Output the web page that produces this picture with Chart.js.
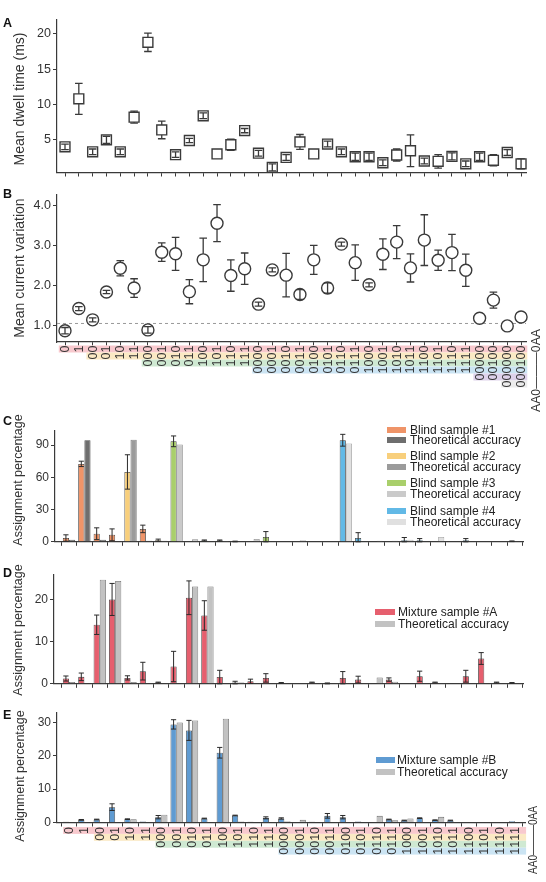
<!DOCTYPE html>
<html><head><meta charset="utf-8">
<script src="https://cdn.jsdelivr.net/npm/chart.js@4.4.1/dist/chart.umd.min.js"></script>
<style>
html,body{margin:0;padding:0;background:#fff;}
body{width:546px;height:882px;position:relative;overflow:hidden;font-family:"Liberation Sans",Arial,sans-serif;}
.txt{position:absolute;white-space:nowrap;line-height:1;}
.sw{position:absolute;}
</style></head><body>
<script>
// ---------------- DATA ----------------
const abCategories = ['0','1','00','01','10','11','000','001','010','011','100','101','110','111',
  '0000','0001','0010','0011','0100','0101','0110','0111','1000','1001','1010','1011','1100','1101','1110','1111',
  '00000','00100','000000','000100'];
const cdeCategories = ['0','1','00','01','10','11','000','001','010','011','100','101','110','111',
  '0000','0001','0010','0011','0100','0101','0110','0111','1000','1001','1010','1011','1100','1101','1110','1111'];
const frameLabel = 'AA0———0AA';

const dwellTime = [4.0,10.8,3.3,5.0,3.3,8.2,18.8,6.4,2.9,4.9,8.4,3.0,4.3,6.3,3.1,1.1,2.5,4.7,3.0,4.4,3.3,2.6,2.6,1.75,2.85,3.45,2.0,1.95,2.65,1.6,2.6,2.1,3.2,1.6];
const dwellErr  = [0.4,2.2,0.4,0.5,0.4,0.85,1.3,1.25,0.4,0.3,0.4,0,0.8,0.3,0.4,0.5,0.4,1.05,0,0.4,0.4,0.5,0.5,0.4,0.85,2.25,0.4,0.95,0.5,0.4,0.5,0.8,0.4,0.7];
const dwellTicks = [5,10,15,20];

const currentVar = [0.88,1.43,1.15,1.84,2.43,1.94,0.90,2.83,2.79,1.85,2.64,3.55,2.25,2.42,1.54,2.39,2.26,1.78,2.64,1.94,3.03,2.57,2.02,2.78,3.08,2.44,3.13,2.63,2.82,2.38,1.19,1.64,1.00,1.22];
const currentErr = [0.08,0.05,0.05,0.04,0.19,0.23,0.08,0.23,0.41,0.30,0.54,0.46,0.39,0.39,0.05,0.05,0.54,0.12,0.36,0.13,0.05,0.44,0.05,0.38,0.41,0.35,0.63,0.25,0.45,0.40,0,0.20,0,0];
const currentTicks = [1,2,3,4];
const currentBaseline = 1.06;

const blindSample = [3.5,72.5,7.5,6.5,65,12,1.5,93.5,0,1.2,1.2,0.3,0,4.5,0,0,0,0,94.5,3.5,0,0,1.5,1.5,0,0,1.5,0,0,0.5];
const blindErr    = [3,2.5,5.5,5.5,16,3.5,1,5,0,0.5,0.5,0.3,0,5,0,0,0,0,5.5,5,0,0,2.5,1.5,0,0,1.5,0,0,0.3];
const blindTheory = [2,94.5,2,0.5,95,1,1,90.5,2.3,0.5,0.3,0.5,2.6,0,0,1.5,0,0,91.5,0,1,1,2,0,4.5,0,0,0,0,0.5];
const blindGroup  = [1,1,1,1,2,1,2,3,3,3,3,3,3,3,4,4,4,4,4,4,4,4,4,4,4,4,4,4,4,4];
const blindNames  = ['Blind sample #1','Blind sample #2','Blind sample #3','Blind sample #4'];
const blindTicks  = [0,30,60,90];

const mixA       = [1.25,1.65,14.0,20.0,1.4,3.0,0.3,4.1,20.4,16.2,1.6,0.3,0.6,1.4,0.2,0,0.3,0.1,1.4,1.0,0.1,1.0,0,1.8,0.3,0.1,1.8,6.0,0.3,0.2];
const mixAErr    = [0.6,0.9,2.3,3.8,0.5,2.1,0.1,3.6,4.0,3.5,1.6,0.3,0.5,1.0,0.1,0,0.1,0.1,1.5,0.8,0,0.4,0,1.2,0.1,0,1.4,1.4,0.1,0.1];
const mixATheory = [0.4,0,24.7,24.4,0.4,0,0,0,23.1,23.1,0,0.3,0,0,0,0.2,0,0,0,0,1.5,0.5,0,0,0.2,0,0,0.2,0,0.2];
const mixATicks  = [0,10,20];

const mixB       = [0.2,0.8,0.9,4.6,1.0,0.3,1.6,29.4,27.6,1.2,20.9,2.1,0.2,1.4,1.2,0,0.2,2.0,1.6,0.3,0,0.9,0.6,1.3,0.7,0.6,0.1,0.1,0.1,0.4];
const mixBErr    = [0,0.1,0.1,1.0,0.1,0,0.5,1.4,3.0,0.1,1.6,0.1,0,0.3,0.2,0,0,0.7,0.5,0,0,0.1,0.1,0.1,0.1,0.1,0,0,0,0];
const mixBTheory = [0,0,0,0,1.0,0,2.3,30.0,30.6,0,31.1,0.3,0,0,0.4,0.8,0,0,0,0,2.0,0.7,1.2,0,1.7,0,0,0,0,0];
const mixBTicks  = [0,10,20,30];

// ---------------- STYLE ----------------
const FF = '"Liberation Sans", Arial, Helvetica, sans-serif';
const AX = '#3a3a3a', TXT = '#333';
const sampleColors = ['#ef9468','#f8cf7c','#a9cf6b','#62b9e6'];
const theoryColors = ['#6e6e6e','#9b9b9b','#cacaca','#e0e0e0'];
const theoryBorders = ['#4a4a4a','#5e5e5e','#8a8a8a','#a0a0a0'];
const mixAColor = '#e65f6e', mixBColor = '#5f9bd2', mixTheoryColor = '#c2c2c2';
const bandColors = ['#f8c9ce','#fbe9c4','#cfe9d2','#cbe4f3','#ddd1ea','#ececec'];

Chart.defaults.font.family = FF;
Chart.defaults.animation = false;

function addText(str, x, y, size, o = {}) {
  const d = document.createElement('div');
  d.className = 'txt'; d.textContent = str;
  d.style.fontSize = size + 'px'; d.style.color = o.color || '#222';
  if (o.bold) d.style.fontWeight = 'bold';
  d.style.left = x + 'px'; d.style.top = y + 'px';
  d.style.transform = o.rot ? 'translate(-50%,-50%) rotate(-90deg)' : 'translate(0,-50%)';
  document.body.appendChild(d);
}
function addSwatch(x, y, w, h, color) {
  const d = document.createElement('div'); d.className = 'sw';
  d.style.cssText += `left:${x}px;top:${y - h/2}px;width:${w}px;height:${h}px;background:${color};`;
  document.body.appendChild(d);
}

function makeCanvas(top, h) {
  const c = document.createElement('canvas');
  c.width = 546; c.height = h;
  c.style.cssText = `position:absolute;left:0;top:${top}px;width:546px;height:${h}px;`;
  document.body.appendChild(c);
  return c;
}

function scalesFor(L) {
  const n = L.n;
  const xMin = -(L.firstX - L.left) / L.step;
  const xMax = (n - 1) + (L.right - (L.firstX + (n - 1) * L.step)) / L.step;
  const idx = Array.from({length: n}, (_, i) => i);
  return {
    x: {type: 'linear', min: xMin, max: xMax, offset: false,
      afterBuildTicks: s => { s.ticks = idx.map(v => ({value: v})); },
      afterFit: s => { s.height = L.height - (L.plotBottom - L.top); },
      ticks: {display: false},
      grid: {display: true, drawOnChartArea: false, drawTicks: true, tickLength: L.tickLen || 4, color: AX, lineWidth: 1},
      border: {display: true, color: AX, width: 1.2}},
    y: {type: 'linear', min: L.yMin, max: L.yMax,
      afterBuildTicks: s => { s.ticks = L.yTicks.map(v => ({value: v})); },
      afterFit: s => { s.width = L.left; },
      ticks: {color: TXT, font: {family: FF, size: L.fs}, padding: 2, callback: L.fmt || (v => v)},
      grid: {display: true, drawOnChartArea: false, drawTicks: true, tickLength: 4, color: AX, lineWidth: 1},
      border: {display: true, color: AX, width: 1.2}}
  };
}
function layoutFor(L) {
  return {padding: {top: L.plotTop - L.top, left: 0, right: 546 - L.right, bottom: 0}};
}

function drawErr(ctx, x, yTop, yBot, cap) {
  ctx.beginPath();
  ctx.moveTo(x, yTop); ctx.lineTo(x, yBot);
  ctx.moveTo(x - cap, yTop); ctx.lineTo(x + cap, yTop);
  ctx.moveTo(x - cap, yBot); ctx.lineTo(x + cap, yBot);
  ctx.stroke();
}

function pointErrPlugin(values, errs, half, cap) {
  function draw(chart, inner) {
    const ctx = chart.ctx, ys = chart.scales.y, meta = chart.getDatasetMeta(0);
    ctx.save(); ctx.strokeStyle = '#3a3a3a'; ctx.lineWidth = 1.3;
    values.forEach((v, i) => {
      const e = errs[i]; if (!e) return;
      const p = meta.data[i];
      const t = ys.getPixelForValue(v + e), b = ys.getPixelForValue(v - e);
      const isInner = (p.y - t) < half;
      if (isInner !== inner) return;
      drawErr(ctx, p.x, t, b, cap);
    });
    ctx.restore();
  }
  return {id: 'perr', beforeDatasetsDraw(c) { draw(c, false); }, afterDatasetsDraw(c) { draw(c, true); }};
}

function barErrPlugin(values, errs) {
  return {id: 'berr', afterDatasetsDraw(chart) {
    const ctx = chart.ctx, ys = chart.scales.y, meta = chart.getDatasetMeta(0);
    ctx.save(); ctx.strokeStyle = '#2b2b2b'; ctx.lineWidth = 1;
    values.forEach((v, i) => {
      const e = errs[i]; if (!e) return;
      const bar = meta.data[i];
      const t = ys.getPixelForValue(v + e), b = ys.getPixelForValue(Math.max(v - e, 0));
      drawErr(ctx, bar.x, t, b, 2.6);
    });
    ctx.restore();
  }};
}

function baselinePlugin(value) {
  return {id: 'base', beforeDatasetsDraw(chart) {
    const ctx = chart.ctx, a = chart.chartArea, y = chart.scales.y.getPixelForValue(value);
    ctx.save(); ctx.strokeStyle = '#9a9a9a'; ctx.lineWidth = 1; ctx.setLineDash([3, 3]);
    ctx.beginPath(); ctx.moveTo(a.left, y); ctx.lineTo(a.right, y); ctx.stroke(); ctx.restore();
  }};
}

function catLabelPlugin(o) {
  return {id: 'cats', afterDraw(chart) {
    const ctx = chart.ctx, xs = chart.scales.x, a = chart.chartArea;
    const step = xs.getPixelForValue(1) - xs.getPixelForValue(0);
    const y0 = a.bottom + o.gap;
    const nRows = Math.max(...o.cats.map(s => s.length));
    ctx.save();
    for (let r = 0; r < nRows; r++) {
      const first = o.cats.findIndex(s => s.length > r);
      const x1 = xs.getPixelForValue(first) - o.padBefore * step;
      const x2 = xs.getPixelForValue(o.cats.length - 1) + o.padAfter * step;
      ctx.fillStyle = bandColors[r];
      ctx.fillRect(x1, y0 + r * o.rowH, x2 - x1, o.rowH);
    }
    ctx.fillStyle = TXT; ctx.font = `${o.fs}px ${FF}`;
    ctx.textAlign = 'center'; ctx.textBaseline = 'middle';
    o.cats.forEach((s, i) => {
      const x = xs.getPixelForValue(i);
      for (let k = 0; k < s.length; k++) {
        const r = s.length - 1 - k;
        const y = y0 + r * o.rowH + o.rowH / 2;
        ctx.save(); ctx.translate(x + 0.5, y); ctx.rotate(-Math.PI / 2);
        ctx.fillText(s[k], 0, 0); ctx.restore();
      }
    });
    ctx.save();
    ctx.translate(o.frame.x, (o.frame.top + o.frame.bottom) / 2);
    ctx.rotate(-Math.PI / 2);
    ctx.fillText(frameLabel, 0, 0, o.frame.bottom - o.frame.top);
    ctx.restore();
    ctx.restore();
  }};
}

const common = {responsive: false, animation: false, events: [],
  plugins: {legend: {display: false}, tooltip: {enabled: false}}};

// ---------------- PANEL A ----------------
const LA = {top: 0, height: 182, left: 57, right: 526, plotTop: 20, plotBottom: 174,
  firstX: 65, step: 13.82, n: abCategories.length, yMin: 0.37, yMax: 21.96, yTicks: dwellTicks, fs: 12.5};
new Chart(makeCanvas(LA.top, LA.height), {
  type: 'scatter',
  data: {datasets: [{data: dwellTime.map((v, i) => ({x: i, y: v})), pointStyle: 'rect', pointRadius: 7,
    pointBackgroundColor: '#fff', pointBorderColor: '#3a3a3a', pointBorderWidth: 1.4, clip: false}]},
  options: Object.assign({}, common, {layout: layoutFor(LA), scales: scalesFor(LA)}),
  plugins: [pointErrPlugin(dwellTime, dwellErr, 5, 3.8)]
});

// ---------------- PANEL B ----------------
const LB = {top: 182, height: 240, left: 57, right: 526, plotTop: 195, plotBottom: 342, tickLen: 3.5,
  firstX: 65, step: 13.82, n: abCategories.length, yMin: 0.6, yMax: 4.25, yTicks: currentTicks, fs: 12.5,
  fmt: v => v.toFixed(1)};
new Chart(makeCanvas(LB.top, LB.height), {
  type: 'scatter',
  data: {datasets: [{data: currentVar.map((v, i) => ({x: i, y: v})), pointStyle: 'circle', pointRadius: 6,
    pointBackgroundColor: '#fff', pointBorderColor: '#3a3a3a', pointBorderWidth: 1.4, clip: false}]},
  options: Object.assign({}, common, {layout: layoutFor(LB), scales: scalesFor(LB)}),
  plugins: [baselinePlugin(currentBaseline), pointErrPlugin(currentVar, currentErr, 6, 3.8),
    catLabelPlugin({cats: abCategories, rowH: 7.0, gap: 3.5, padBefore: 0.45, padAfter: 0.45, fs: 12.5,
      frame: {x: 537, top: 329 - LB.top, bottom: 412 - LB.top}})]
});

// ---------------- bar panel helper ----------------
function barPanel(L, sample, err, theory, sCol, tCol, tBor, extraPlugins) {
  return new Chart(makeCanvas(L.top, L.height), {
    type: 'bar',
    data: {datasets: [
      {data: sample.map((v, i) => ({x: i, y: v})), backgroundColor: sCol, borderColor: '#3a3a3a', borderWidth: 0.8,
        categoryPercentage: 0.8, barPercentage: 1},
      {data: theory.map((v, i) => ({x: i, y: v})), backgroundColor: tCol, borderColor: tBor, borderWidth: 0.8,
        categoryPercentage: 0.8, barPercentage: 1}
    ]},
    options: Object.assign({}, common, {layout: layoutFor(L), scales: scalesFor(L)}),
    plugins: [barErrPlugin(sample, err)].concat(extraPlugins || [])
  });
}

// ---------------- PANEL C ----------------
const LC = {top: 420, height: 131, left: 55, right: 523.5, plotTop: 431, plotBottom: 542.5,
  firstX: 69, step: 15.38, n: cdeCategories.length, yMin: 0, yMax: 103.1, yTicks: blindTicks, fs: 12};
barPanel(LC, blindSample, blindErr, blindTheory,
  blindGroup.map(g => sampleColors[g - 1]), blindGroup.map(g => theoryColors[g - 1]),
  blindGroup.map(g => theoryBorders[g - 1]));

// ---------------- PANEL D ----------------
const LD = {top: 560, height: 133, left: 54, right: 523.5, plotTop: 575, plotBottom: 684.5,
  firstX: 69, step: 15.38, n: cdeCategories.length, yMin: 0, yMax: 25.8, yTicks: mixATicks, fs: 12};
barPanel(LD, mixA, mixAErr, mixATheory, mixAColor, mixTheoryColor, '#6a6a6a');

// ---------------- PANEL E ----------------
const LE = {top: 700, height: 182, left: 57, right: 525, plotTop: 712.7, plotBottom: 822.5,
  firstX: 69, step: 15.38, n: cdeCategories.length, yMin: 0, yMax: 32.9, yTicks: mixBTicks, fs: 12};
barPanel(LE, mixB, mixBErr, mixBTheory, mixBColor, mixTheoryColor, '#6a6a6a',
  [catLabelPlugin({cats: cdeCategories, rowH: 6.9, gap: 4.5, padBefore: 0.38, padAfter: 0.72, fs: 12.5,
    frame: {x: 534, top: 806 - LE.top, bottom: 874 - LE.top}})]);

// ---------------- TEXT ----------------
addText('A', 3, 23, 12.5, {bold: true, color: '#111'});
addText('B', 3, 194, 12.5, {bold: true, color: '#111'});
addText('C', 3, 421, 12.5, {bold: true, color: '#111'});
addText('D', 3, 573, 12.5, {bold: true, color: '#111'});
addText('E', 3, 715, 12.5, {bold: true, color: '#111'});

addText('Mean dwell time (ms)', 19, 99, 14, {rot: true, color: TXT});
addText('Mean current variation', 19, 268, 14, {rot: true, color: TXT});
addText('Assignment percentage', 18, 480, 12.5, {rot: true, color: TXT});
addText('Assignment percentage', 18, 630, 12.5, {rot: true, color: TXT});
addText('Assignment percentage', 20, 776, 12.5, {rot: true, color: TXT});

// legends
const cLegY = [[429.5, 440], [456, 467], [483, 494], [511, 522]];
blindNames.forEach((name, g) => {
  addSwatch(387, cLegY[g][0], 19, 6, sampleColors[g]);
  addText(name, 410, cLegY[g][0], 12, {color: '#222'});
  addSwatch(387, cLegY[g][1], 19, 6, theoryColors[g]);
  addText('Theoretical accuracy', 410, cLegY[g][1], 12, {color: '#222'});
});
addSwatch(375, 612.3, 20, 6, mixAColor);
addText('Mixture sample #A', 398, 612.3, 12, {color: '#222'});
addSwatch(375, 624.3, 20, 6, mixTheoryColor);
addText('Theoretical accuracy', 398, 624.3, 12, {color: '#222'});
addSwatch(376, 760, 19, 6, mixBColor);
addText('Mixture sample #B', 397, 760, 12, {color: '#222'});
addSwatch(376, 772.3, 19, 6, mixTheoryColor);
addText('Theoretical accuracy', 397, 772.3, 12, {color: '#222'});
</script>
</body></html>
